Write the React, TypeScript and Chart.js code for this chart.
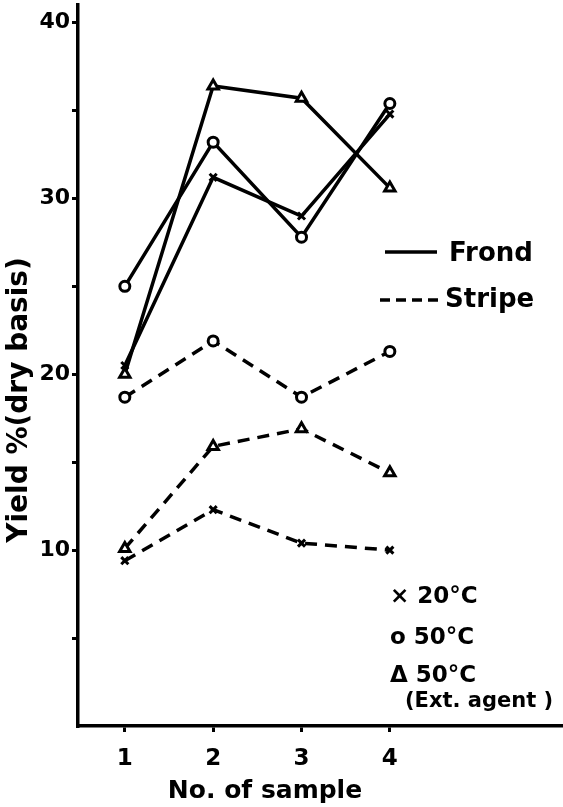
import React, { useEffect, useRef } from "react";
import { Chart, registerables } from "chart.js";

Chart.register(...registerables);

// ---- data ----
const samples = [1, 2, 3, 4];
const xTickValues = [1, 2, 3, 4];
const yTickValues = [5, 10, 15, 20, 25, 30, 35, 40];
const yLabelledTicks = [10, 20, 30, 40];

const frond20 = [20.5, 31.2, 29.0, 34.8];
const frond50 = [25.0, 33.2, 27.8, 35.4];
const frondExt = [20.0, 36.4, 35.7, 30.6];
const stripe20 = [9.4, 12.3, 10.4, 10.0];
const stripe50 = [18.7, 21.9, 18.7, 21.3];
const stripeExt = [10.1, 15.9, 16.9, 14.4];

const yTitle = "Yield %(dry basis)";
const xTitle = "No. of sample";
const lineLegend = ["Frond", "Stripe"];
const markerLegend = ["× 20°C", "o 50°C", "Δ 50°C", "(Ext. agent )"];

const FONT = "'DejaVu Sans', sans-serif";
const INK = "#000";

const pts = (vals: number[]) => vals.map((v, i) => ({ x: samples[i], y: v }));

function ds(label: string, vals: number[], style: string, dashed: boolean) {
  const radius = style === "triangle" ? 6 : 5;
  return {
    label,
    data: pts(vals),
    borderColor: INK,
    backgroundColor: "#fff",
    borderWidth: 3.5,
    borderDash: dashed ? [12, 8] : [],
    pointStyle: style,
    pointRadius: radius,
    pointBorderColor: INK,
    pointBackgroundColor: "#fff",
    pointBorderWidth: 3,
    tension: 0,
    fill: false,
  };
}

const annotate = {
  id: "annotate",
  afterDraw(chart: any) {
    const ctx = chart.ctx as CanvasRenderingContext2D;
    ctx.save();
    ctx.fillStyle = INK;
    ctx.strokeStyle = INK;

    // y title
    ctx.save();
    ctx.translate(20, 400);
    ctx.rotate(-Math.PI / 2);
    ctx.font = `bold 28px ${FONT}`;
    ctx.textAlign = "center";
    ctx.textBaseline = "middle";
    ctx.fillText(yTitle, 0, 0);
    ctx.restore();

    // x title
    ctx.font = `bold 25px ${FONT}`;
    ctx.textAlign = "center";
    ctx.textBaseline = "middle";
    ctx.fillText(xTitle, 265, 791);

    // line legend
    ctx.lineWidth = 3.5;
    ctx.setLineDash([]);
    ctx.beginPath();
    ctx.moveTo(385, 252);
    ctx.lineTo(437, 252);
    ctx.stroke();
    ctx.setLineDash([10, 6]);
    ctx.beginPath();
    ctx.moveTo(380, 300);
    ctx.lineTo(444, 300);
    ctx.stroke();
    ctx.setLineDash([]);

    ctx.font = `bold 26px ${FONT}`;
    ctx.textAlign = "left";
    ctx.textBaseline = "middle";
    ctx.fillText(lineLegend[0], 449, 254);
    ctx.fillText(lineLegend[1], 445, 300);

    // marker legend
    ctx.font = `bold 23px ${FONT}`;
    ctx.fillText(markerLegend[0], 390, 597);
    ctx.fillText(markerLegend[1], 390, 638);
    ctx.fillText(markerLegend[2], 390, 676);
    ctx.font = `bold 21px ${FONT}`;
    ctx.fillText(markerLegend[3], 405, 702);
    ctx.restore();
  },
};

export default function App() {
  const ref = useRef<HTMLCanvasElement | null>(null);
  useEffect(() => {
    if (!ref.current) return;
    const chart = new Chart(ref.current, {
      type: "line",
      data: {
        datasets: [
          ds("Frond 20°C", frond20, "crossRot", false),
          ds("Frond 50°C", frond50, "circle", false),
          ds("Frond 50°C (Ext. agent)", frondExt, "triangle", false),
          ds("Stripe 20°C", stripe20, "crossRot", true),
          ds("Stripe 50°C", stripe50, "circle", true),
          ds("Stripe 50°C (Ext. agent)", stripeExt, "triangle", true),
        ],
      },
      options: {
        responsive: false,
        animation: false,
        devicePixelRatio: 1,
        layout: { autoPadding: false, padding: { top: 5, left: 0, right: 0, bottom: 0 } },
        plugins: { legend: { display: false }, tooltip: { enabled: false } },
        scales: {
          x: {
            type: "linear",
            min: 0.47,
            max: 5.96,
            afterBuildTicks: (s: any) => {
              s.ticks = xTickValues.map((v) => ({ value: v }));
            },
            afterFit: (s: any) => {
              s.height = 81;
              s.paddingLeft = 0;
              s.paddingRight = 0;
            },
            ticks: {
              color: INK,
              padding: 13,
              maxRotation: 0,
              font: { family: FONT, size: 23, weight: "bold" },
              callback: (v: any) => String(v),
            },
            grid: { drawOnChartArea: false, drawTicks: true, tickLength: 6, color: INK, lineWidth: 3 },
            border: { display: true, color: INK, width: 3.5 },
          },
          y: {
            type: "linear",
            min: 0,
            max: 41,
            afterBuildTicks: (s: any) => {
              s.ticks = yTickValues.map((v) => ({ value: v }));
            },
            afterFit: (s: any) => {
              s.width = 78;
              s.paddingTop = 0;
              s.paddingBottom = 0;
            },
            ticks: {
              color: INK,
              padding: 2,
              font: { family: FONT, size: 22, weight: "bold" },
              callback: (v: any) => (yLabelledTicks.includes(Number(v)) ? String(v) : ""),
            },
            grid: { drawOnChartArea: false, drawTicks: true, tickLength: 6, color: INK, lineWidth: 3 },
            border: { display: true, color: INK, width: 3.5 },
          },
        },
      },
      plugins: [annotate],
    });
    return () => chart.destroy();
  }, []);
  return (
    <div style={{ position: "fixed", left: 0, top: 0, width: 563, height: 807, background: "#fff" }}>
      <canvas ref={ref} width={563} height={807} style={{ display: "block", width: 563, height: 807 }} />
    </div>
  );
}
